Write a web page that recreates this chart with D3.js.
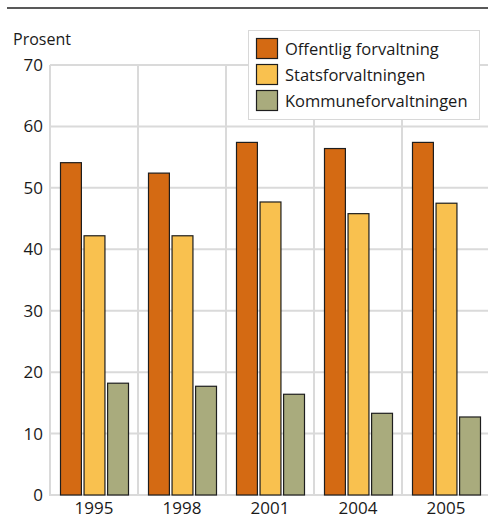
<!DOCTYPE html>
<html><head><meta charset="utf-8">
<script src="https://cdn.jsdelivr.net/npm/d3@7"></script>
<style>body{margin:0;background:#fff;} svg{display:block;font-family:"Open Sans",sans-serif;}</style>
</head><body>
<script>
const years = ["1995","1998","2001","2004","2005"];
const seriesNames = ["Offentlig forvaltning","Statsforvaltningen","Kommuneforvaltningen"];
const offentlig = [54.1, 52.4, 57.4, 56.4, 57.4];
const stats = [42.2, 42.2, 47.7, 45.8, 47.5];
const kommune = [18.2, 17.7, 16.4, 13.3, 12.7];
const yTicks = [0,10,20,30,40,50,60,70];
const colors = ["#d46a13","#f9c14f","#a9ab7d"];

const W = 488, H = 521;
const m = {left:50, right:-2, top:65, bottom:26};
const svg = d3.select("body").append("svg").attr("width",W).attr("height",H);

svg.append("line").attr("x1",7).attr("x2",488).attr("y1",8).attr("y2",8).attr("stroke","#222").attr("stroke-width",1.3);

const x = d3.scaleBand().domain(years).range([m.left, W - m.right]).paddingInner(0).paddingOuter(0);
const y = d3.scaleLinear().domain([0,70]).range([H - m.bottom, m.top]);
const x1 = d3.scaleBand().domain(seriesNames).range([10, x.bandwidth()-9]).paddingInner(0.07);

const g = svg.append("g");
g.selectAll(".hg").data(yTicks).join("line")
  .attr("x1", m.left).attr("x2", W)
  .attr("y1", d=>y(d)).attr("y2", d=>y(d))
  .attr("stroke","#dadada").attr("stroke-width",2);
g.selectAll(".vg").data(years).join("line")
  .attr("x1", d=>x(d)).attr("x2", d=>x(d))
  .attr("y1", y(70)).attr("y2", y(0)+1)
  .attr("stroke","#dadada").attr("stroke-width",2);

const yAxis = d3.axisLeft(y).tickValues(yTicks).tickSize(0).tickPadding(6);
const ya = svg.append("g").attr("transform",`translate(${m.left-1},0)`).call(yAxis);
ya.select(".domain").remove();
ya.selectAll("text").attr("font-size",17).attr("fill","#1a1a1a").attr("font-family","Open Sans, sans-serif");

const xAxis = d3.axisBottom(x).tickSize(0).tickPadding(7);
const xa = svg.append("g").attr("transform",`translate(0,${y(0)})`).call(xAxis);
xa.select(".domain").remove();
xa.selectAll("text").attr("font-size",17).attr("fill","#1a1a1a").attr("font-family","Open Sans, sans-serif");

svg.append("text").attr("x",13).attr("y",45).attr("font-size",16).attr("fill","#1a1a1a").text("Prosent");

const data = [offentlig, stats, kommune];
const groups = svg.selectAll(".grp").data(years).join("g").attr("transform", d=>`translate(${x(d)},0)`);
groups.selectAll("rect").data((d,i)=>data.map((s,k)=>({k, v:s[i]}))).join("rect")
  .attr("x", d=>x1(seriesNames[d.k])+0.5)
  .attr("width", x1.bandwidth()-1)
  .attr("y", d=>y(d.v))
  .attr("height", d=>y(0)-y(d.v))
  .attr("fill", d=>colors[d.k])
  .attr("stroke","#1e1e1e").attr("stroke-width",1.2);

const lg = svg.append("g");
lg.append("rect").attr("x",248.5).attr("y",30.5).attr("width",231).attr("height",89)
  .attr("fill","#fff").attr("stroke","#d8d8d8").attr("stroke-width",1);
seriesNames.forEach((n,i)=>{
  lg.append("rect").attr("x",256.5).attr("y",38.5+i*26).attr("width",21).attr("height",20)
    .attr("fill",colors[i]).attr("stroke","#1e1e1e").attr("stroke-width",1.2);
  lg.append("text").attr("x",285).attr("y",55+i*26).attr("font-size",16.5).attr("fill","#1a1a1a").text(n);
});
</script>
</body></html>
